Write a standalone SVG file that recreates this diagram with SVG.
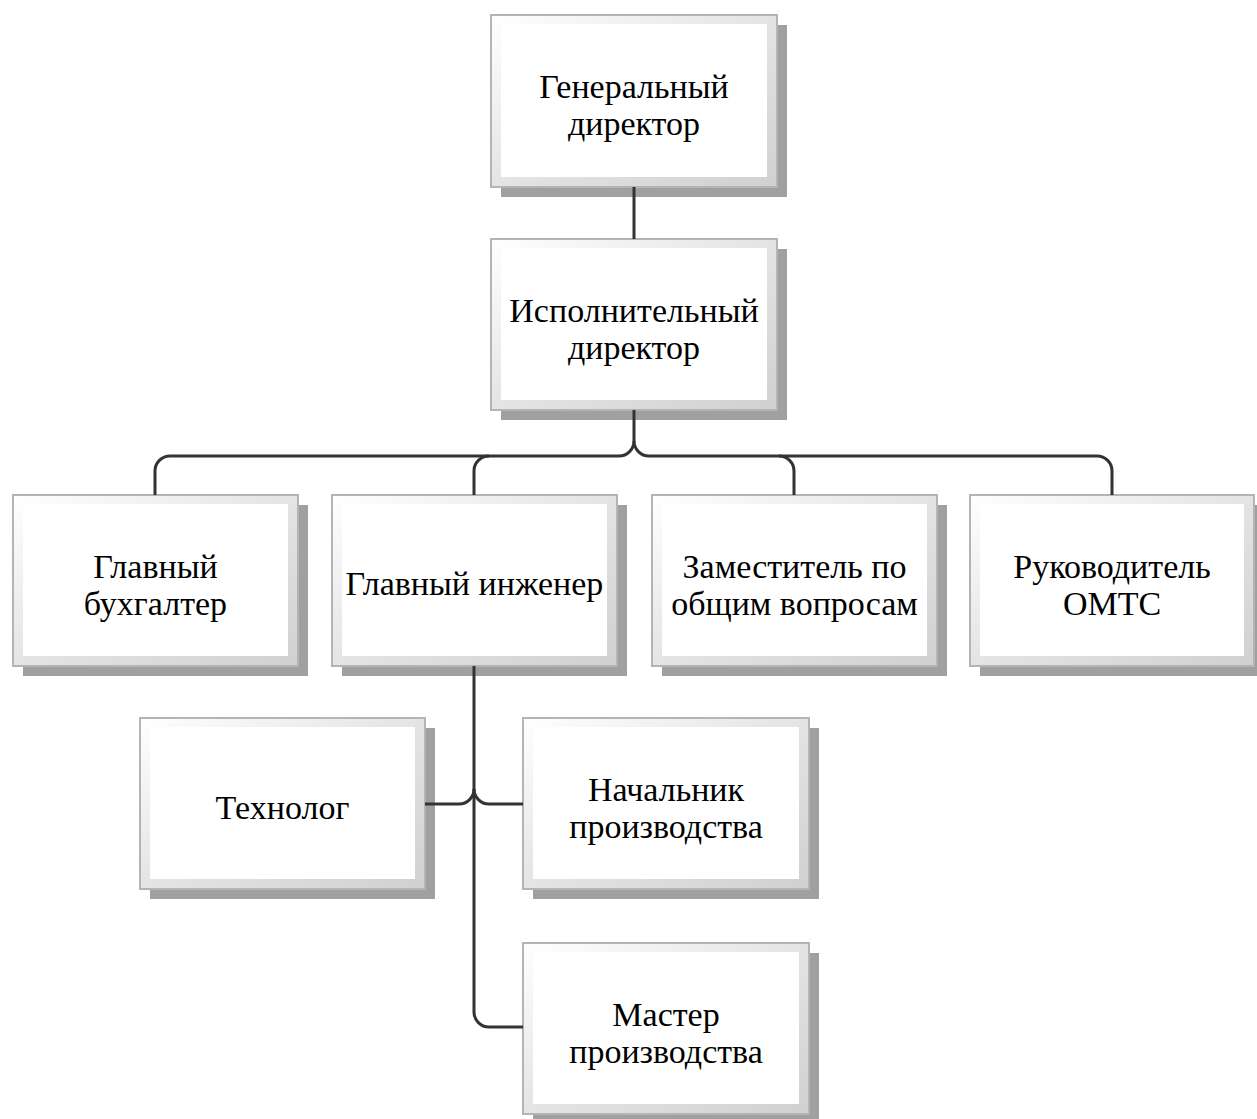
<svg xmlns="http://www.w3.org/2000/svg" width="1257" height="1119" viewBox="0 0 1257 1119">
<defs>
<linearGradient id="bev" x1="0" y1="0" x2="1" y2="1">
<stop offset="0" stop-color="#ffffff"/>
<stop offset="0.5" stop-color="#e4e4e4"/>
<stop offset="1" stop-color="#d0d0d0"/>
</linearGradient>
</defs>
<style>
.sh{fill:#a0a0a0}
.ob{fill:url(#bev);stroke:#b4b4b4;stroke-width:2}
.ib{fill:#ffffff}
.t{font-family:"Liberation Serif","Times New Roman",serif;font-size:34px;fill:#000;text-anchor:middle}
.c{fill:none;stroke:#333333;stroke-width:3}
</style>
<rect width="1257" height="1119" fill="#ffffff"/>
<g id="n1">
<rect class="sh" x="501" y="25" width="286" height="172"/>
<rect class="ob" x="491" y="15" width="286" height="172"/>
<rect class="ib" x="501" y="24" width="266" height="153"/>
<text class="t" x="634" y="98">Генеральный</text>
<text class="t" x="634" y="135">директор</text>
</g>
<g id="n2">
<rect class="sh" x="501" y="249" width="286" height="171"/>
<rect class="ob" x="491" y="239" width="286" height="171"/>
<rect class="ib" x="501" y="248" width="266" height="152"/>
<text class="t" x="634" y="322">Исполнительный</text>
<text class="t" x="634" y="359">директор</text>
</g>
<g id="n3">
<rect class="sh" x="23" y="505" width="285" height="171"/>
<rect class="ob" x="13" y="495" width="285" height="171"/>
<rect class="ib" x="23" y="504" width="265" height="152"/>
<text class="t" x="155.5" y="578">Главный</text>
<text class="t" x="155.5" y="615">бухгалтер</text>
</g>
<g id="n4">
<rect class="sh" x="342" y="505" width="285" height="171"/>
<rect class="ob" x="332" y="495" width="285" height="171"/>
<rect class="ib" x="342" y="504" width="265" height="152"/>
<text class="t" x="474.5" y="595">Главный инженер</text>
</g>
<g id="n5">
<rect class="sh" x="662" y="505" width="285" height="171"/>
<rect class="ob" x="652" y="495" width="285" height="171"/>
<rect class="ib" x="662" y="504" width="265" height="152"/>
<text class="t" x="794.5" y="578">Заместитель по</text>
<text class="t" x="794.5" y="615">общим вопросам</text>
</g>
<g id="n6">
<rect class="sh" x="980" y="505" width="285" height="171"/>
<rect class="ob" x="970" y="495" width="284" height="171"/>
<rect class="ib" x="980" y="504" width="264" height="152"/>
<text class="t" x="1112" y="578">Руководитель</text>
<text class="t" x="1112" y="615">ОМТС</text>
</g>
<g id="n7">
<rect class="sh" x="150" y="728" width="285" height="171"/>
<rect class="ob" x="140" y="718" width="285" height="171"/>
<rect class="ib" x="150" y="727" width="265" height="152"/>
<text class="t" x="282.5" y="819">Технолог</text>
</g>
<g id="n8">
<rect class="sh" x="533" y="728" width="286" height="171"/>
<rect class="ob" x="523" y="718" width="286" height="171"/>
<rect class="ib" x="533" y="727" width="266" height="152"/>
<text class="t" x="666" y="801">Начальник</text>
<text class="t" x="666" y="838">производства</text>
</g>
<g id="n9">
<rect class="sh" x="533" y="953" width="286" height="171"/>
<rect class="ob" x="523" y="943" width="286" height="171"/>
<rect class="ib" x="533" y="952" width="266" height="152"/>
<text class="t" x="666" y="1026">Мастер</text>
<text class="t" x="666" y="1063">производства</text>
</g>
<g id="connectors">
<path class="c" d="M634 187 V239"/>
<path class="c" d="M634 410 V441 A15 15 0 0 1 619 456 H170 A15 15 0 0 0 155 471 V495"/>
<path class="c" d="M489 456 A15 15 0 0 0 474 471 V495"/>
<path class="c" d="M634 441 A15 15 0 0 0 649 456 H1097 A15 15 0 0 1 1112 471 V495"/>
<path class="c" d="M779 456 A15 15 0 0 1 794 471 V495"/>
<path class="c" d="M474 666 V1012 A15 15 0 0 0 489 1027 H523"/>
<path class="c" d="M474 789 A15 15 0 0 1 459 804 H425"/>
<path class="c" d="M474 789 A15 15 0 0 0 489 804 H523"/>
</g>
</svg>
